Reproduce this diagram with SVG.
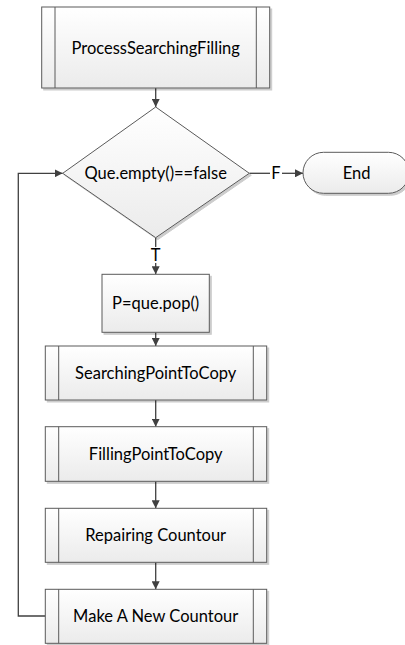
<svg xmlns="http://www.w3.org/2000/svg" width="405" height="645" viewBox="0 0 405 645">
<defs>
<linearGradient id="g" x1="0" y1="0" x2="0" y2="1">
<stop offset="0" stop-color="#ffffff"/>
<stop offset="1" stop-color="#ebebeb"/>
</linearGradient>
<marker id="ah" viewBox="0 0 8 8" refX="8" refY="4" markerWidth="8" markerHeight="8" markerUnits="userSpaceOnUse" orient="auto">
<path d="M0,0 L8,4 L0,8 z" fill="#404040"/>
</marker>
<filter id="sh" x="-10%" y="-10%" width="120%" height="130%">
<feOffset dx="2" dy="2" in="SourceAlpha" result="o"/>
<feColorMatrix in="o" type="matrix" values="0 0 0 0 0  0 0 0 0 0  0 0 0 0 0  0 0 0 0.2 0" result="c"/>
<feMerge><feMergeNode in="c"/><feMergeNode in="SourceGraphic"/></feMerge>
</filter>
</defs>
<style>
.b{fill:url(#g);stroke:#5a5a5a;stroke-width:1;filter:url(#sh)}
.l{stroke:#5a5a5a;stroke-width:1;fill:none}
.t{font-family:Lato,"Open Sans","Liberation Sans",sans-serif;font-size:16.5px;fill:#000;text-anchor:middle;dominant-baseline:central}
.c{stroke:#404040;stroke-width:1.3;fill:none;marker-end:url(#ah)}
.c2{stroke:#404040;stroke-width:1.3;fill:none}
</style>
<g id="connectors">
<path class="c" d="M155.7,88 V107"/>
<path class="c2" d="M249.5,173.3 H270"/>
<path class="c" d="M282,173.3 H303"/>
<path class="c2" d="M155.7,237.7 V247"/>
<path class="c" d="M155.7,263 V274.3"/>
<path class="c" d="M155.7,332.3 V346"/>
<path class="c" d="M155.7,400 V426.7"/>
<path class="c" d="M155.7,481.3 V508.3"/>
<path class="c" d="M155.7,562.3 V589.3"/>
<path class="c" d="M45.3,616 H18.3 V173.3 H62.7"/>
<text class="t" x="276" y="173.3">F</text>
<text class="t" x="155.7" y="255">T</text>
</g>
<g id="n1">
<rect class="b" x="41.7" y="7" width="228" height="81"/>
<path class="l" d="M55,7 V88 M256.3,7 V88"/>
<text class="t" x="155.7" y="48">ProcessSearchingFilling</text>
</g>
<g id="n2">
<polygon class="b" points="155.7,107 249.3,173.3 155.7,237.7 62.7,173.3"/>
<text class="t" x="155.7" y="173.3">Que.empty()==false</text>
</g>
<g id="n3">
<rect class="b" x="303" y="152.3" width="106" height="41" rx="20.5" ry="20.5"/>
<text class="t" x="356.5" y="173.3">End</text>
</g>
<g id="n4">
<rect class="b" x="102" y="274.3" width="107.3" height="58"/>
<text class="t" x="155.7" y="303">P=que.pop()</text>
</g>
<g id="n5">
<rect class="b" x="45.3" y="346" width="221.4" height="54"/>
<path class="l" d="M58.7,346 V400 M253.3,346 V400"/>
<text class="t" x="155.7" y="373">SearchingPointToCopy</text>
</g>
<g id="n6">
<rect class="b" x="45.3" y="426.7" width="221.4" height="54.6"/>
<path class="l" d="M58.7,426.7 V481.3 M253.3,426.7 V481.3"/>
<text class="t" x="155.7" y="454">FillingPointToCopy</text>
</g>
<g id="n7">
<rect class="b" x="45.3" y="508.3" width="221.4" height="54"/>
<path class="l" d="M58.7,508.3 V562.3 M253.3,508.3 V562.3"/>
<text class="t" x="155.7" y="535.3">Repairing Countour</text>
</g>
<g id="n8">
<rect class="b" x="45.3" y="589.3" width="221.4" height="54"/>
<path class="l" d="M58.7,589.3 V643.3 M253.3,589.3 V643.3"/>
<text class="t" x="155.7" y="616.3">Make A New Countour</text>
</g>
</svg>
